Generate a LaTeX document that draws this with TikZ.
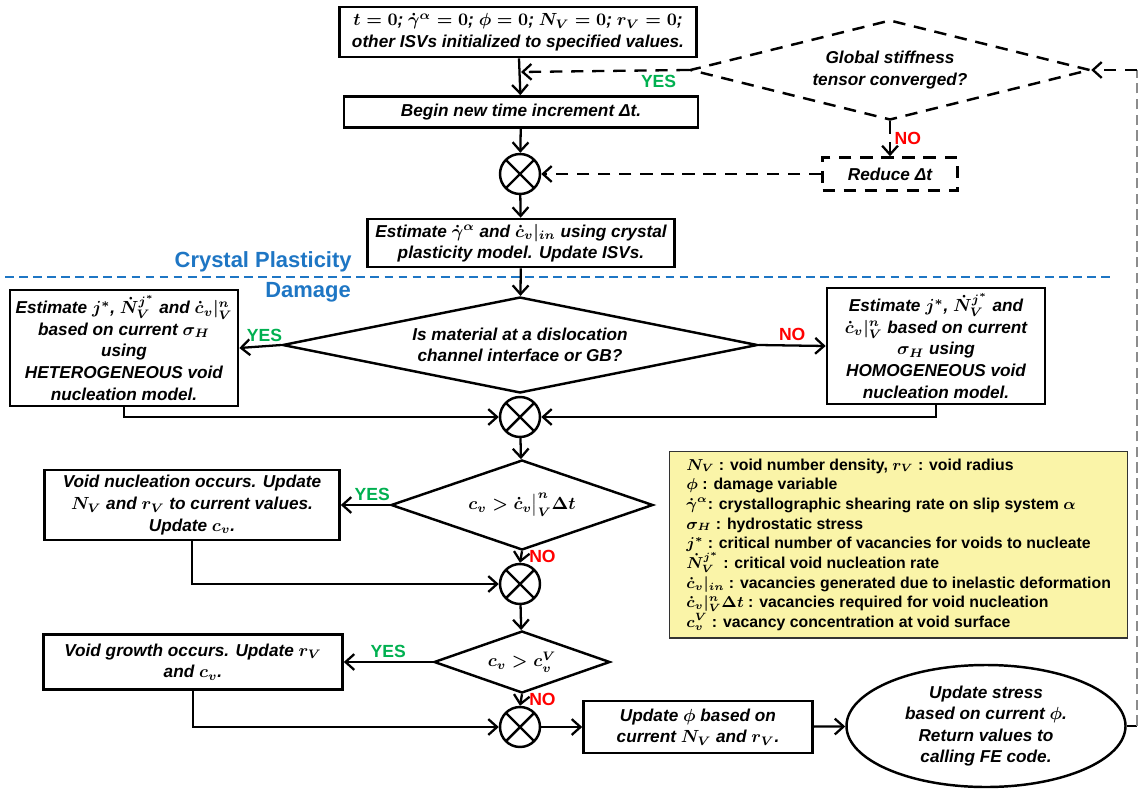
\documentclass[tikz,border=0pt]{standalone}
\usepackage[no-math]{fontspec}
\setmainfont{Liberation Sans}
\usepackage{amsmath}
\usetikzlibrary{shapes.geometric,arrows.meta}
\definecolor{vert}{RGB}{0,176,80}
\definecolor{rouge}{RGB}{255,0,0}
\definecolor{bleu}{RGB}{30,118,196}
\definecolor{jaune}{RGB}{250,244,168}
\begin{document}
\begin{tikzpicture}[x=0.02cm,y=-0.02cm]
	\def\px{0.02cm}
	\def\police{\fontsize{9.8}{12.3}\selectfont\bfseries\boldmath}
	\tikzstyle{fleche}=[-{Straight Barb[length=5pt,width=9pt]},line width=1.3pt]
	\tikzstyle{tirets}=[dash pattern=on 7pt off 5pt]
	\tikzstyle{boite}=[draw,rectangle,line width=1.5pt,align=center,inner sep=1pt,font=\police\itshape]
	\tikzstyle{losange}=[draw,diamond,line width=1.4pt,align=center,inner sep=0pt,font=\police\itshape]
	\tikzstyle{croix}=[draw,circle,line width=1.4pt,minimum size=40*\px,inner sep=0pt,
		path picture={\draw[line width=1.4pt] (path picture bounding box.north west)--(path picture bounding box.south east)
			(path picture bounding box.north east)--(path picture bounding box.south west);}]
	\tikzstyle{oui}=[text=vert,font=\fontsize{10}{12}\selectfont\bfseries,inner sep=2pt]
	\tikzstyle{non}=[text=rouge,font=\fontsize{10}{12}\selectfont\bfseries,inner sep=2pt]
	\tikzstyle{titre}=[text=bleu,font=\fontsize{12.5}{14}\selectfont\bfseries,inner sep=0pt]
	\useasboundingbox (0,0) rectangle (1139,791);
	% haut : initialisation et pas de temps
	\node[boite,minimum width=357*\px,minimum height=50*\px] (init) at (518,32)
		{$t = 0$; $\dot{\gamma}^{\alpha} = 0$; $\phi = 0$; $N_V = 0$; $r_V = 0$;\\other ISVs initialized to specified values.};
	\node[boite,minimum width=354*\px,minimum height=31*\px] (debut) at (521,112) {Begin new time increment Δt.};
	\node[losange,tirets,aspect=4,minimum width=400*\px,minimum height=100*\px] (global) at (890,70)
		{Global stiffness\\tensor converged?};
	\node[boite,tirets,minimum width=135*\px,minimum height=33*\px] (reduire) at (890,174) {Reduce Δt};
	\node[croix] (xA) at (520,174) {};
	\node[boite,minimum width=307*\px,minimum height=48*\px] (estim) at (521,243)
		{Estimate $\dot{\gamma}^{\alpha}$ and $\dot{c}_v|_{in}$ using crystal\\plasticity model. Update ISVs.};
	\coordinate (jonction) at (521,72);
	% separation plasticite / endommagement
	\draw[bleu,line width=1.4pt,dash pattern=on 5pt off 3pt] (5,277) -- (1110,277);
	\node[titre,anchor=east] (plast) at (352,262) {Crystal Plasticity};
	\node[titre,anchor=west] (dommage) at (265,292) {Damage};
	% germination
	\node[losange,aspect=5,minimum width=475*\px,minimum height=96*\px] (canal) at (520,345)
		{Is material at a dislocation\\channel interface or GB?};
	\node[boite,minimum width=228*\px,minimum height=116*\px] (hetero) at (124,348)
		{Estimate $j^{*}$, $\dot{N}_V^{j^{*}}$ and $\dot{c}_v|_V^n$\\based on current $\sigma_H$\\using\\HETEROGENEOUS void\\nucleation model.};
	\node[boite,minimum width=218*\px,minimum height=116*\px] (homo) at (936,346)
		{Estimate $j^{*}$, $\dot{N}_V^{j^{*}}$ and\\$\dot{c}_v|_V^n$ based on current\\$\sigma_H$ using\\HOMOGENEOUS void\\nucleation model.};
	\node[croix] (xB) at (520,417) {};
	\node[losange,aspect=3,minimum width=262*\px,minimum height=90*\px] (condA) at (522,505)
		{$c_v > \dot{c}_v\big|_V^n \Delta t$};
	\node[boite,minimum width=295*\px,minimum height=70*\px] (germ) at (192,505)
		{Void nucleation occurs. Update\\$N_V$ and $r_V$ to current values.\\Update $c_v$.};
	\node[croix] (xC) at (520,584) {};
	% croissance
	\node[losange,aspect=3,minimum width=176*\px,minimum height=62*\px] (condB) at (522,662) {$c_v > c_v^V$};
	\node[boite,minimum width=299*\px,minimum height=55*\px] (croiss) at (193,662)
		{Void growth occurs. Update $r_V$\\and $c_v$.};
	\node[croix] (xD) at (520,727) {};
	\node[boite,minimum width=229*\px,minimum height=52*\px] (majphi) at (698,727)
		{Update $\phi$ based on\\current $N_V$ and $r_V$.};
	\node[boite,ellipse,line width=1.4pt,inner sep=0pt,minimum width=279*\px,minimum height=122*\px] (contrainte) at (986,726)
		{Update stress\\based on current $\phi$.\\Return values to\\calling FE code.};
	\coordinate (retourB) at (1137,726);
	\coordinate (retourH) at (1137,70);
	% legende
	\node[draw=black!80,line width=0.8pt,fill=jaune,align=left,anchor=north west,inner sep=4pt,
		minimum width=458*\px,minimum height=186*\px,font=\fontsize{9}{11.2}\selectfont\bfseries\boldmath] (legende) at (669,451)
		{$N_V$ : void number density, $r_V$ : void radius\\
		$\phi$ : damage variable\\
		$\dot{\gamma}^{\alpha}$: crystallographic shearing rate on slip system $\alpha$\\
		$\sigma_H$ : hydrostatic stress\\
		$j^{*}$ : critical number of vacancies for voids to nucleate\\
		$\dot{N}_V^{j^{*}}$ : critical void nucleation rate\\
		$\dot{c}_v|_{in}$ : vacancies generated due to inelastic deformation\\
		$\dot{c}_v|_V^n\Delta t$ : vacancies required for void nucleation\\
		$c_v^V$ : vacancy concentration at void surface};
	% liaisons
	\draw[fleche] (init) -- (debut);
	\draw[fleche,tirets] (global.west) -- (jonction) node[oui,pos=0.18,below] (ouiA) {YES};
	\draw[fleche,tirets] (global.south) -- (reduire.north) node[non,pos=0.5,right] (nonA) {NO};
	\draw[fleche,tirets] (reduire.west) -- (xA.east);
	\draw[fleche] (debut) -- (xA);
	\draw[fleche] (xA) -- (estim);
	\draw[fleche] (estim) -- (canal);
	\draw[fleche] (canal.west) -- (hetero.east) node[oui,pos=0.4,above] (ouiB) {YES};
	\draw[fleche] (canal.east) -- (homo.west) node[non,pos=0.5,above] (nonB) {NO};
	\draw[fleche] (hetero.south) |- (xB.west);
	\draw[fleche] (homo.south) |- (xB.east);
	\draw[fleche] (xB) -- (condA);
	\draw[fleche] (condA.west) -- (germ.east) node[oui,pos=0.36,above] (ouiC) {YES};
	\draw[fleche] (condA.south) -- (xC.north) node[non,pos=0.45,right,xshift=2pt] (nonC) {NO};
	\draw[fleche] (germ.south) |- (xC.west);
	\draw[fleche] (xC) -- (condB);
	\draw[fleche] (condB.west) -- (croiss.east) node[oui,pos=0.5,above] (ouiD) {YES};
	\draw[fleche] (condB.south) -- (xD.north) node[non,pos=0.45,right,xshift=2pt] (nonD) {NO};
	\draw[fleche] (croiss.south) |- (xD.west);
	\draw[fleche] (xD) -- (majphi);
	\draw[fleche] (majphi) -- (contrainte);
	\draw[line width=1.3pt] (contrainte.east) -- (retourB);
	\draw[black!45,line width=1pt,dash pattern=on 6pt off 3pt] (retourB) -- (retourH);
	\draw[fleche,tirets] (retourH) -- (global.east);
\end{tikzpicture}
\end{document}
